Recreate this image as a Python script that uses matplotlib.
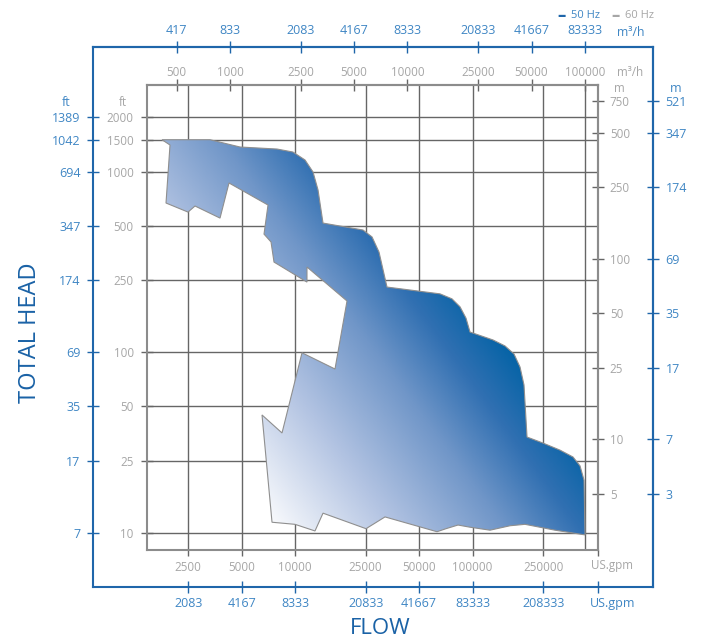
import matplotlib
matplotlib.use('Agg')
import matplotlib.pyplot as plt
import numpy as np
from matplotlib.ticker import NullLocator
from matplotlib.patches import Polygon
from matplotlib.colors import LinearSegmentedColormap

plt.rcParams['font.family'] = ['Open Sans', 'DejaVu Sans']

# Colours
BLUE = '#1f66aa'
BLUE_TXT = '#3f86c4'
TITLE_BLUE = '#1a62a6'
GRAY_TXT = '#a6a6a6'
GRID = '#666666'
FRAME = '#8c8c8c'

# Flow scales: 60 Hz (gray) and 50 Hz (blue)
GPM_60 = [2500, 5000, 10000, 25000, 50000, 100000, 250000]
GPM_50 = [2083, 4167, 8333, 20833, 41667, 83333, 208333]
M3H_60 = [500, 1000, 2500, 5000, 10000, 25000, 50000, 100000]
M3H_50 = [417, 833, 2083, 4167, 8333, 20833, 41667, 83333]
M3H_TO_GPM = 4.3

# Head scales
FT_60 = [2000, 1500, 1000, 500, 250, 100, 50, 25, 10]
FT_50 = [1389, 1042, 694, 347, 174, 69, 35, 17, 7]
M_60 = [750, 500, 250, 100, 50, 25, 10, 5]
M_50 = [521, 347, 174, 69, 35, 17, 7, 3]
M_TO_FT = 3.281

# Performance range outline, 60 Hz (US gpm, ft)
OUTLINE_GPM = [1781, 3320, 4900, 7920, 9740, 11390, 12630, 13480, 14380, 24160,
               27160, 29730, 32980, 48680, 65600, 76640, 85040, 91920, 96800, 130500,
               152500, 171300, 185200, 195000, 202800, 249600, 311200, 368300, 403300, 424900,
               430400, 291600, 197600, 162700, 125500, 96800, 82850, 70920, 63100, 32140,
               25120, 14380, 12960, 10000, 7421, 6518, 8449, 10950, 16800, 19630,
               11680, 11680, 7616, 7326, 6689, 7045, 4247, 3780, 2733, 2496,
               1876, 1976]
OUTLINE_FT = [1500, 1500, 1367, 1332, 1282, 1158, 994, 790, 518, 474,
              434, 358, 229, 218, 210, 197, 178, 154, 129, 116.6,
              108, 97.5, 82.6, 65.7, 33.8, 31.3, 28.6, 26.2, 23.4, 19.5,
              9.7, 10.3, 11.1, 10.9, 10.3, 10.7, 11.0, 10.5, 10.1, 12.2,
              10.5, 12.8, 10.2, 11.1, 11.4, 44.8, 35.6, 99, 80.5, 191.7,
              295.8, 244, 315, 407, 450, 652, 864, 552, 644, 596,
              669, 1402]

XLIM = (1466, 509300)
YLIM = (8.0, 3015)

# Layout in pixels (left, top, right, bottom)
W, H = 703, 641
IN = (147, 85, 598, 550)
OUT = (93, 47, 653, 587)


def box(b):
    return [b[0] / W, 1 - b[3] / H, (b[2] - b[0]) / W, (b[3] - b[1]) / H]


def log_extend(lim, a0, a1, b0, b1):
    l0, l1 = np.log10(lim)
    k = (l1 - l0) / (a1 - a0)
    return 10 ** (l0 + (b0 - a0) * k), 10 ** (l0 + (b1 - a0) * k)


fig = plt.figure(figsize=(W / 100, H / 100), dpi=100)

# ---- outer (50 Hz) frame ----
oax = fig.add_axes(box(OUT), facecolor='none')
oax.set_xscale('log')
oax.set_yscale('log')
oax.set_xlim(log_extend(XLIM, IN[0], IN[2], OUT[0], OUT[2]))
oax.set_ylim(log_extend(YLIM, IN[3], IN[1], OUT[3], OUT[1]))
for s in oax.spines.values():
    s.set_color(BLUE)
    s.set_linewidth(1.5)
oax.set_xticks(GPM_60 + [XLIM[1]], labels=[str(v) for v in GPM_50] + [''])
oax.set_yticks(FT_60, labels=[str(v) for v in FT_50])
oax.xaxis.set_minor_locator(NullLocator())
oax.yaxis.set_minor_locator(NullLocator())
oax.tick_params(axis='x', direction='inout', length=9, width=1, color=BLUE,
                labelcolor=BLUE_TXT, labelsize=9, pad=2.5)
oax.tick_params(axis='y', direction='inout', length=9, width=1, color=BLUE,
                labelcolor=BLUE_TXT, labelsize=9, pad=4.5)

otop = oax.secondary_xaxis('top', functions=(lambda q: q / M3H_TO_GPM, lambda q: q * M3H_TO_GPM))
otop.set_xticks(M3H_60, labels=[str(v) for v in M3H_50])
otop.xaxis.set_minor_locator(NullLocator())
otop.tick_params(direction='inout', length=9, width=1, color=BLUE,
                 labelcolor=BLUE_TXT, labelsize=9, pad=3)
otop.spines['top'].set_color(BLUE)
otop.spines['top'].set_linewidth(1.5)

oright = oax.secondary_yaxis('right', functions=(lambda q: q / M_TO_FT, lambda q: q * M_TO_FT))
oright.set_yticks(M_60, labels=[str(v) for v in M_50])
oright.yaxis.set_minor_locator(NullLocator())
oright.tick_params(direction='inout', length=9, width=1, color=BLUE,
                   labelcolor=BLUE_TXT, labelsize=9, pad=4.5)
oright.spines['right'].set_color(BLUE)
oright.spines['right'].set_linewidth(1.5)

# ---- inner (60 Hz) chart ----
ax = fig.add_axes(box(IN), facecolor='white')
ax.set_xscale('log')
ax.set_yscale('log')
ax.set_xlim(XLIM)
ax.set_ylim(YLIM)
ax.set_autoscale_on(False)
for s in ax.spines.values():
    s.set_color(FRAME)
    s.set_linewidth(1.5)

ax.set_xticks(GPM_60 + [XLIM[1]], labels=[str(v) for v in GPM_60] + [''])
ax.set_yticks(FT_60, labels=[str(v) for v in FT_60])
ax.xaxis.set_minor_locator(NullLocator())
ax.yaxis.set_minor_locator(NullLocator())
ax.tick_params(axis='x', direction='out', length=4, width=1, color=GRID,
               labelcolor=GRAY_TXT, labelsize=8.4, pad=4)
ax.tick_params(axis='y', direction='inout', length=9, width=1, color=GRID,
               labelcolor=GRAY_TXT, labelsize=8.4, pad=5)
ax.grid(True, color=GRID, linewidth=1.0)
ax.axvline(M3H_60[-1] * M3H_TO_GPM, color=GRID, linewidth=1.0, zorder=1.5)

itop = ax.secondary_xaxis('top', functions=(lambda q: q / M3H_TO_GPM, lambda q: q * M3H_TO_GPM))
itop.set_xticks(M3H_60, labels=[str(v) for v in M3H_60])
itop.xaxis.set_minor_locator(NullLocator())
itop.tick_params(direction='inout', length=8, width=1, color=GRID,
                 labelcolor=GRAY_TXT, labelsize=8.4, pad=0.5)
itop.spines['top'].set_color(FRAME)
itop.spines['top'].set_linewidth(1.5)

iright = ax.secondary_yaxis('right', functions=(lambda q: q / M_TO_FT, lambda q: q * M_TO_FT))
iright.set_yticks(M_60, labels=[str(v) for v in M_60])
iright.yaxis.set_minor_locator(NullLocator())
iright.tick_params(direction='inout', length=9, width=1, color=GRID,
                   labelcolor=GRAY_TXT, labelsize=8.4, pad=4)
iright.spines['right'].set_color(FRAME)
iright.spines['right'].set_linewidth(1.5)

# performance range with gradient fill
verts = np.column_stack([OUTLINE_GPM, OUTLINE_FT])
clip = Polygon(verts, closed=True, transform=ax.transData)
gx, gy = np.meshgrid(np.linspace(0, 1, 400), np.linspace(1, 0, 400))
shade = np.clip(1.028 * gx + 0.777 * gy - 0.302, 0, 1)
cmap = LinearSegmentedColormap.from_list(
    'range', [(0, '#ffffff'), (0.3, '#b2c3e2'), (0.55, '#7096c8'),
              (0.72, '#3170b2'), (0.88, '#0062a5'), (1.0, '#005c9f')])
im = ax.imshow(shade, cmap=cmap, vmin=0, vmax=1, extent=(0, 1, 0, 1),
               transform=ax.transAxes, aspect='auto', interpolation='bilinear',
               zorder=2)
im.set_clip_path(clip)
ax.add_patch(Polygon(verts, closed=True, fill=False, edgecolor='#8f8f8f',
                     linewidth=0.8, zorder=3))
ax.set_xlim(XLIM)
ax.set_ylim(YLIM)


# units and titles
def ftext(px, py, s, **kw):
    fig.text(px / W, 1 - py / H, s, **kw)


ftext(123, 102, 'ft', color=GRAY_TXT, fontsize=8.4, ha='center', va='center')
ftext(66, 102, 'ft', color=BLUE_TXT, fontsize=9, ha='center', va='center')
ftext(619, 88, 'm', color=GRAY_TXT, fontsize=8.4, ha='center', va='center')
ftext(676, 88, 'm', color=BLUE_TXT, fontsize=9, ha='center', va='center')
ftext(617, 72, 'm³/h', color=GRAY_TXT, fontsize=8.4, ha='left', va='center')
ftext(617, 32, 'm³/h', color=BLUE_TXT, fontsize=8.8, ha='left', va='center')
ftext(591, 566, 'US.gpm', color=GRAY_TXT, fontsize=8.4, ha='left', va='center')
ftext(590, 603, 'US.gpm', color=BLUE_TXT, fontsize=9, ha='left', va='center')
ftext(557, 16, '–', color=BLUE, fontsize=12, fontweight='bold', ha='left', va='center')
ftext(571, 16, '50 Hz', color=BLUE_TXT, fontsize=8, ha='left', va='center')
ftext(611, 16, '–', color=GRAY_TXT, fontsize=12, fontweight='bold', ha='left', va='center')
ftext(625, 16, '60 Hz', color=GRAY_TXT, fontsize=8, ha='left', va='center')
ftext(30, 333, 'TOTAL HEAD', color=TITLE_BLUE, fontsize=17, rotation=90,
      ha='center', va='center')
ftext(380, 629, 'FLOW', color=TITLE_BLUE, fontsize=16, ha='center', va='center')

fig.savefig('out.png', dpi=100, facecolor='white')
